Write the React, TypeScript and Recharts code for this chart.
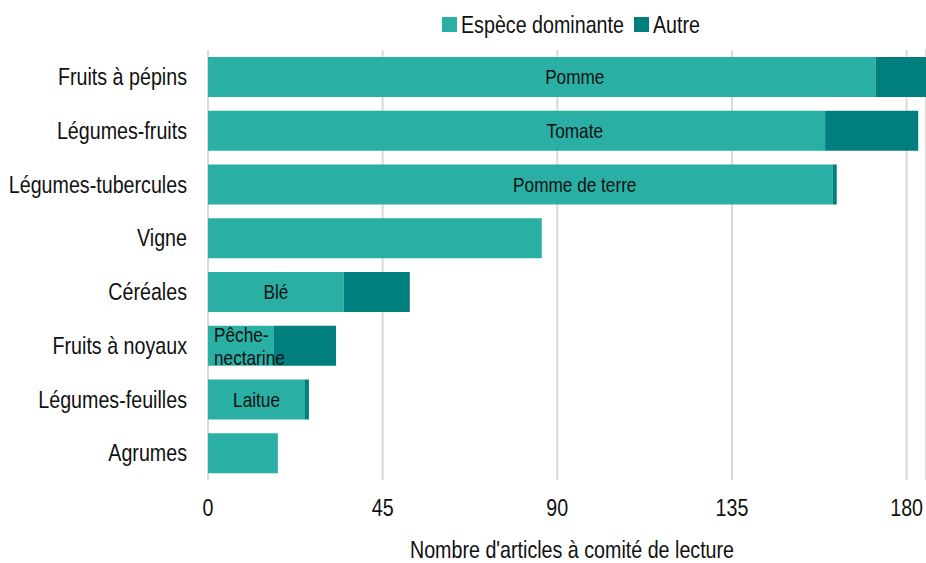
import React from 'react';
import { Bar, BarChart, CartesianGrid, LabelList, Legend, XAxis, YAxis } from 'recharts';

const categories = [
  'Fruits à pépins',
  'Légumes-fruits',
  'Légumes-tubercules',
  'Vigne',
  'Céréales',
  'Fruits à noyaux',
  'Légumes-feuilles',
  'Agrumes',
];
const dominant = [172, 159, 161, 86, 35, 17, 25, 18];
const other = [14, 24, 1, 0, 17, 16, 1, 0];
const speciesLabels = ['Pomme', 'Tomate', 'Pomme de terre', '', 'Blé', 'Pêche-\nnectarine', 'Laitue', ''];
const xTicks = [0, 45, 90, 135, 180];

const seriesNames = { dominant: 'Espèce dominante', other: 'Autre' };

const FONT = "'Liberation Sans', Arial, sans-serif";
const SQUEEZE = 0.82; // narrow face look
const INK = '#111';
const LIGHT = '#2aafa4';
const DARK = '#007f7e';

const data = categories.map((name, i) => ({
  name,
  dominant: dominant[i],
  other: other[i],
  label: speciesLabels[i],
}));

function NarrowText({ x, y, anchor = 'middle', size = 24, children }: any) {
  return (
    <g transform={`translate(${x},${y}) scale(${SQUEEZE},1)`}>
      <text x={0} y={0} textAnchor={anchor} dominantBaseline="central" fontSize={size} fontFamily={FONT} fill={INK}>
        {children}
      </text>
    </g>
  );
}

function YTick(props: any) {
  const { x, y, payload } = props;
  return <NarrowText x={x - 13} y={y} anchor="end">{payload.value}</NarrowText>;
}

function XTick(props: any) {
  const { x, y, payload } = props;
  return <NarrowText x={x} y={y + 20}>{payload.value}</NarrowText>;
}

function AxisTitle(props: any) {
  const { viewBox } = props;
  return (
    <NarrowText x={viewBox.x + viewBox.width / 2 + 5} y={viewBox.y + 70}>
      Nombre d'articles à comité de lecture
    </NarrowText>
  );
}

function SpeciesLabel(props: any) {
  const { x, y, width, height, index } = props;
  const text = speciesLabels[index];
  if (!text) return null;
  const pxPerUnit = width / dominant[index];
  const cy = y + height / 2;
  if (text.includes('\n')) {
    const [a, b] = text.split('\n');
    return (
      <g>
        <NarrowText x={x + 6} y={cy - 11} anchor="start" size={21}>{a}</NarrowText>
        <NarrowText x={x + 6} y={cy + 12} anchor="start" size={21}>{b}</NarrowText>
      </g>
    );
  }
  // long bars: label sits near the middle of the axis range
  const cx = dominant[index] > 92 ? x + pxPerUnit * 94.5 : x + width / 2;
  return <NarrowText x={cx} y={cy} size={21}>{text}</NarrowText>;
}

function LegendContent() {
  const items = [
    { label: seriesNames.dominant, color: LIGHT, at: 0 },
    { label: seriesNames.other, color: DARK, at: 192 },
  ];
  return (
    <svg width={270} height={30} style={{ display: 'block' }}>
      {items.map((it) => (
        <g key={it.label}>
          <rect x={it.at} y={9} width={15} height={15} fill={it.color} />
          <NarrowText x={it.at + 19} y={17} anchor="start">{it.label}</NarrowText>
        </g>
      ))}
    </svg>
  );
}

export default function App() {
  return (
    <div style={{ width: 926, height: 563 }}>
      <style>{`body{margin:0}`}</style>
      <BarChart
        width={926}
        height={563}
        data={data}
        layout="vertical"
        margin={{ top: 50, right: 0, left: 0, bottom: 0 }}
        barSize={40}
      >
        <CartesianGrid horizontal={false} stroke="#d9d9d9" strokeWidth={2} />
        <XAxis
          type="number"
          domain={[0, 185]}
          ticks={xTicks}
          allowDataOverflow
          axisLine={false}
          tickLine={false}
          height={83}
          tick={<XTick />}
          label={<AxisTitle />}
        />
        <YAxis
          type="category"
          dataKey="name"
          width={208}
          axisLine={false}
          tickLine={false}
          interval={0}
          tick={<YTick />}
        />
        <Legend
          layout="horizontal"
          verticalAlign="middle"
          align="center"
          wrapperStyle={{ top: 8, left: 442, width: 270, height: 30 }}
          content={<LegendContent />}
        />
        <Bar dataKey="dominant" name={seriesNames.dominant} stackId="a" fill={LIGHT} isAnimationActive={false}>
          <LabelList dataKey="label" content={<SpeciesLabel />} />
        </Bar>
        <Bar dataKey="other" name={seriesNames.other} stackId="a" fill={DARK} isAnimationActive={false} />
      </BarChart>
    </div>
  );
}
